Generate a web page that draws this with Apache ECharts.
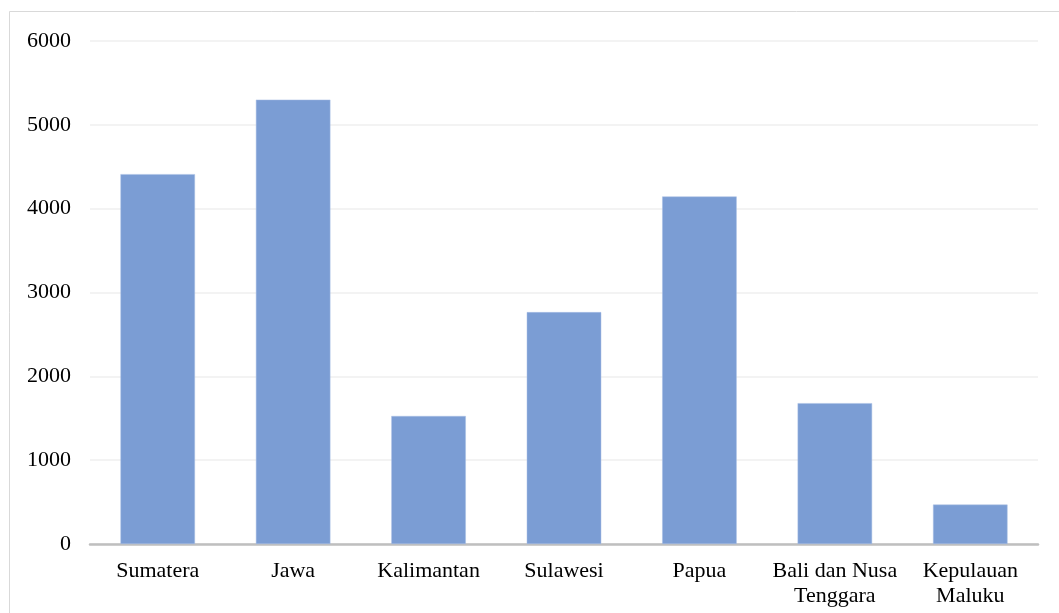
<!DOCTYPE html>
<html><head><meta charset="utf-8">
<script src="https://cdn.jsdelivr.net/npm/echarts@6/dist/echarts.min.js"></script>
<style>html,body{margin:0;padding:0;background:#fff}#c{width:1059px;height:613px}</style>
</head><body><div id="c"></div>
<script>
const categories = ['Sumatera', 'Jawa', 'Kalimantan', 'Sulawesi', 'Papua', 'Bali dan Nusa\nTenggara', 'Kepulauan\nMaluku'];
const values = [4412, 5300, 1527, 2766, 4145, 1680, 470];
const yTicks = { min: 0, max: 6000, interval: 1000 };

const chart = echarts.init(document.getElementById('c'));
chart.setOption({
  animation: false,
  backgroundColor: '#fff',
  graphic: [{
    type: 'polyline', silent: true,
    shape: { points: [[9.5, 613], [9.5, 11.5], [1059, 11.5]] },
    style: { stroke: '#d9d9d9', lineWidth: 1, fill: null }
  }],
  grid: { left: 90, right: 21, top: 41, bottom: 69 },
  xAxis: {
    type: 'category', data: categories,
    axisLine: { lineStyle: { color: '#bfbfbf', width: 2.5 } },
    axisTick: { show: false },
    axisLabel: { color: '#000', fontFamily: 'Liberation Serif', fontSize: 22, lineHeight: 25, margin: 15, interval: 0 }
  },
  yAxis: {
    type: 'value', min: yTicks.min, max: yTicks.max, interval: yTicks.interval,
    axisLine: { show: false }, axisTick: { show: false },
    axisLabel: { color: '#000', fontFamily: 'Liberation Serif', fontSize: 22, margin: 19, formatter: v => String(v) },
    splitLine: { lineStyle: { color: '#efefef', width: 1.5 } }
  },
  series: [{
    type: 'bar', data: values, barCategoryGap: '45%',
    itemStyle: { color: '#7b9dd4', borderColor: '#a9bfe4', borderWidth: 0.5 }
  }]
});
</script></body></html>
